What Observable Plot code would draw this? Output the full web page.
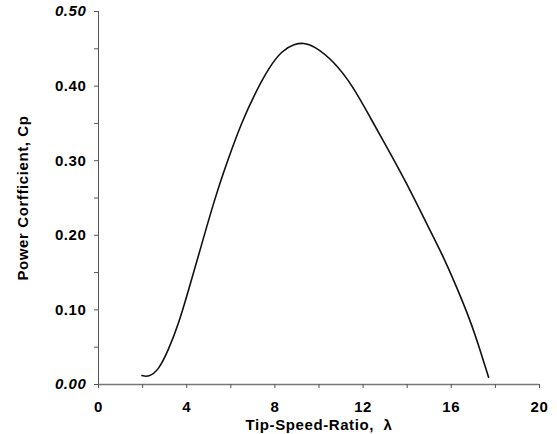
<!DOCTYPE html>
<html>
<head>
<meta charset="utf-8">
<script src="https://cdn.jsdelivr.net/npm/d3@7"></script>
<script src="https://cdn.jsdelivr.net/npm/@observablehq/plot@0.6"></script>
<style>
  html, body { margin: 0; padding: 0; background: #fff; }
  svg { display: block; }
</style>
</head>
<body>
<div id="chart"></div>
<script>
// Tip-speed ratio (lambda) and power coefficient (Cp)
const lambda = [1.97, 2.27, 2.72, 3.17, 3.63, 4.08, 4.69, 5.29, 5.90, 6.50, 7.11, 7.71, 8.32, 8.90, 9.30, 9.75, 10.66, 11.56, 12.32, 13.08, 13.99, 14.89, 15.65, 16.25, 16.86, 17.31, 17.69];
const cp     = [0.012, 0.0098, 0.019, 0.046, 0.081, 0.126, 0.189, 0.251, 0.304, 0.352, 0.391, 0.424, 0.448, 0.4565, 0.458, 0.4544, 0.434, 0.399, 0.358, 0.318, 0.269, 0.215, 0.171, 0.130, 0.086, 0.046, 0.0098];

const xTicks = [0, 2, 4, 6, 8, 10, 12, 14, 16, 18, 20];
const xTickLabels = ["0", "", "4", "", "8", "", "12", "", "16", "", "20"];
const yTicks = [0, 0.05, 0.10, 0.15, 0.20, 0.25, 0.30, 0.35, 0.40, 0.45, 0.50];
const yTickLabels = ["0.00", "", "0.10", "", "0.20", "", "0.30", "", "0.40", "", "0.50"];

const xLabel = "Tip-Speed-Ratio,  λ";
const yLabel = "Power Corfficient, Cp";

const data = lambda.map((x, i) => ({x, y: cp[i]}));

const chart = Plot.plot({
  width: 557,
  height: 434,
  marginLeft: 98,
  marginRight: 18,
  marginTop: 11,
  marginBottom: 50,
  style: {fontFamily: "'Liberation Sans', Arial, sans-serif", fontWeight: "bold", fontSize: "15px", background: "#fff", color: "#000"},
  x: {domain: [0, 20]},
  y: {domain: [0, 0.5]},
  marks: [
    Plot.ruleX([0], {stroke: "#555", strokeWidth: 1}),
    Plot.ruleY([0], {stroke: "#777", strokeWidth: 1.5}),
    Plot.axisX({
      ticks: xTicks,
      tickFormat: d => xTickLabels[xTicks.indexOf(d)],
      tickSize: 4,
      tickPadding: 13,
      stroke: "#555",
      label: xLabel,
      labelAnchor: "center",
      labelArrow: "none",
      labelOffset: 45,
      fontSize: 15
    }),
    Plot.axisY({
      ticks: yTicks,
      tickFormat: d => yTickLabels[yTicks.findIndex(t => Math.abs(t - d) < 1e-9)],
      tickSize: 4,
      tickPadding: 8,
      stroke: "#555",
      label: yLabel,
      labelAnchor: "center",
      labelArrow: "none",
      labelOffset: 81,
      fontSize: 15
    }),
    Plot.line(data, {x: "x", y: "y", curve: "basis", stroke: "#111", strokeWidth: 1.6})
  ]
});

d3.select(chart).selectAll("text").each(function () {
  const t = d3.select(this);
  const s = t.text();
  if (s === "0.50" || s === "0.00") t.style("font-style", "italic");
  t.style("letter-spacing", "0.6px");
});

document.getElementById("chart").append(chart);
</script>
</body>
</html>
